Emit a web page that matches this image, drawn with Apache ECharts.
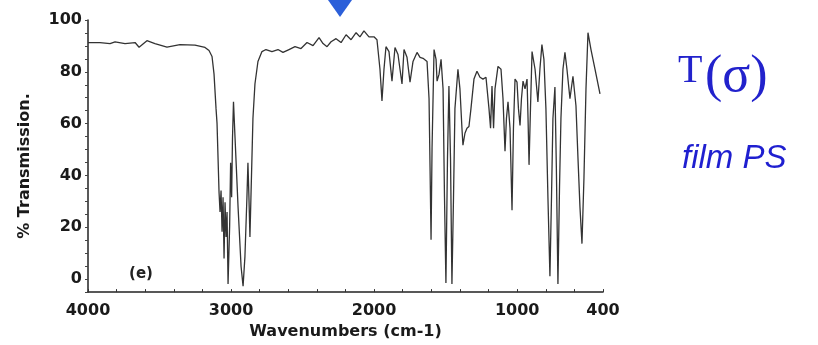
<!DOCTYPE html>
<html>
<head>
<meta charset="utf-8">
<script src="https://cdn.jsdelivr.net/npm/echarts@6/dist/echarts.min.js"></script>
<style>
  html, body { margin: 0; padding: 0; background: #ffffff; }
  #chart { width: 818px; height: 345px; }
</style>
</head>
<body>
<div id="chart"></div>
<script>
// Wavenumbers (cm-1) of the traced spectrum points
const wavenumbers = [
  4000, 3916, 3846, 3811, 3741, 3671, 3643, 3588, 3532, 3448, 3357, 3252, 3182, 3154, 3133, 3119,
  3105, 3098, 3091, 3084, 3077, 3070, 3063, 3056, 3049, 3042, 3035, 3028, 3021, 3010, 3003, 2996,
  2990, 2983, 2972, 2951, 2930, 2916, 2903, 2889, 2882, 2875, 2868, 2861, 2847, 2833, 2812, 2784,
  2756, 2714, 2672, 2637, 2595, 2553, 2511, 2469, 2427, 2385, 2357, 2329, 2301, 2266, 2231, 2196,
  2161, 2126, 2099, 2071, 2036, 2001, 1980, 1959, 1945, 1931, 1917, 1896, 1875, 1854, 1833, 1805,
  1791, 1770, 1749, 1728, 1700, 1679, 1658, 1630, 1616, 1609, 1602, 1595, 1581, 1567, 1560, 1546,
  1532, 1518, 1508, 1498, 1487, 1477, 1466, 1456, 1445, 1435, 1414, 1400, 1386, 1379, 1365, 1351,
  1337, 1323, 1302, 1281, 1260, 1239, 1218, 1197, 1186, 1176, 1165, 1155, 1134, 1113, 1099, 1085,
  1075, 1064, 1050, 1036, 1026, 1015, 1001, 991, 980, 970, 959, 945, 931, 924, 917, 907,
  896, 875, 855, 841, 827, 813, 799, 785, 771, 760, 750, 736, 726, 715, 704, 694,
  680, 666, 652, 631, 610, 589, 575, 561, 547, 533, 519, 505, 484, 456, 421
];
// % Transmission at each wavenumber
const transmission = [
  91.3, 91.3, 90.9, 91.6, 90.9, 91.3, 89.5, 92.0, 90.9, 89.5, 90.5, 90.3, 89.4, 88.2, 85.9, 79.1,
  65.8, 60.1, 46.8, 33.5, 25.9, 34.2, 18.3, 31.6, 8.0, 29.7, 16.3, 25.9, -1.9, 20.2, 44.9, 31.6,
  54.4, 68.4, 54.4, 27.8, 4.9, -2.7, 8.7, 31.6, 44.9, 31.6, 16.3, 31.6, 62.0, 75.3, 84.0, 87.8,
  88.6, 87.8, 88.6, 87.5, 88.6, 89.7, 89.0, 91.3, 90.1, 93.2, 90.9, 89.7, 91.6, 92.8, 91.3, 94.3,
  92.4, 95.1, 93.5, 95.8, 93.5, 93.5, 92.4, 81.0, 68.8, 81.0, 89.7, 87.8, 76.4, 89.4, 86.7, 75.3,
  88.6, 85.6, 76.0, 84.0, 87.5, 85.6, 85.2, 84.0, 69.6, 43.0, 15.2, 50.6, 88.6, 84.8, 76.4, 79.1,
  84.8, 73.4, 31.6, -1.5, 46.8, 74.5, 46.8, -1.9, 31.6, 65.8, 81.0, 73.4, 58.2, 51.7, 56.3, 58.2,
  58.9, 65.8, 77.2, 80.2, 77.9, 77.2, 77.9, 65.8, 58.2, 74.5, 58.2, 73.4, 82.1, 81.0, 69.6, 49.4,
  62.0, 68.4, 58.2, 26.6, 58.2, 77.2, 76.0, 65.8, 59.3, 69.6, 76.4, 73.4, 77.2, 62.0, 44.1, 65.8,
  87.8, 81.0, 68.4, 81.0, 90.5, 84.8, 65.8, 31.6, 1.1, 31.6, 62.0, 74.1, 43.0, -1.9, 35.4, 62.0,
  81.0, 87.5, 81.0, 69.6, 78.3, 66.9, 46.8, 27.8, 13.7, 39.2, 73.4, 95.1, 88.6, 81.0, 71.5
];
// Tick labels
const xTickLabels = [4000, 3000, 2000, 1000, 400];
const xMinorTicks = [4000, 3800, 3600, 3400, 3200, 3000, 2800, 2600, 2400, 2200, 2000, 1800, 1600, 1400, 1200, 1000, 800, 600, 400];
const yTickLabels = [0, 20, 40, 60, 80, 100];

const xName = 'Wavenumbers (cm-1)';
const yName = '% Transmission.';
const panelTag = '(e)';
const sideTitle1a = 'T';
const sideTitle1b = '(σ)';
const sideTitle2 = 'film PS';

const points = wavenumbers.map((w, i) => [w, transmission[i]]);

const chart = echarts.init(document.getElementById('chart'), null, { renderer: 'canvas' });
const labelFont = { fontFamily: 'DejaVu Sans', fontWeight: 'bold', fontSize: 16, color: '#1a1a1a' };

chart.setOption({
  animation: false,
  backgroundColor: '#ffffff',
  grid: { left: 88, right: 215, top: 20, bottom: 49, containLabel: false },
  xAxis: {
    type: 'value',
    inverse: true,
    min: 400,
    max: 4000,
    name: xName,
    nameLocation: 'middle',
    nameGap: 26,
    nameTextStyle: Object.assign({}, labelFont),
    axisLine: { show: true, onZero: false, lineStyle: { color: '#222', width: 1.5 } },
    axisTick: { show: true, inside: true, length: 3, customValues: xMinorTicks, lineStyle: { color: '#333', width: 1 } },
    axisLabel: Object.assign({ customValues: xTickLabels, margin: 11, formatter: v => String(v) }, labelFont),
    splitLine: { show: false }
  },
  yAxis: {
    type: 'value',
    min: -5,
    max: 100,
    interval: 5,
    axisLine: { show: true, onZero: false, lineStyle: { color: '#222', width: 1.5 } },
    axisTick: { show: true, inside: false, length: 3, lineStyle: { color: '#444', width: 1 } },
    axisLabel: Object.assign({ customValues: yTickLabels, margin: 6, formatter: v => String(v) }, labelFont),
    splitLine: { show: false }
  },
  series: [{
    type: 'line',
    data: points,
    showSymbol: false,
    smooth: false,
    lineStyle: { color: '#333333', width: 1.3 },
    clip: true
  }],
  graphic: [
    { type: 'polygon', shape: { points: [[328, 0], [352, 0], [340, 17]] }, style: { fill: '#2b5fd9' } },
    { type: 'text', x: 25, y: 166, rotation: Math.PI / 2, style: { text: yName, fontFamily: 'DejaVu Sans', fontWeight: 'bold', fontSize: 16, fill: '#1a1a1a', align: 'center', verticalAlign: 'middle' } },
    { type: 'text', x: 141, y: 274, style: { text: panelTag, fontFamily: 'DejaVu Sans', fontWeight: 'bold', fontSize: 15, fill: '#222', align: 'center', verticalAlign: 'middle' } },
    { type: 'text', x: 678, y: 71, style: { text: sideTitle1a, fontFamily: 'Liberation Serif', fontSize: 40, fill: '#2222cc', align: 'left', verticalAlign: 'middle' } },
    { type: 'text', x: 705, y: 77, style: { text: sideTitle1b, fontFamily: 'Liberation Serif', fontSize: 52, fill: '#2222cc', align: 'left', verticalAlign: 'middle' } },
    { type: 'text', x: 682, y: 159, style: { text: sideTitle2, fontFamily: 'Liberation Sans', fontStyle: 'italic', fontSize: 33, fill: '#1f1fd0', align: 'left', verticalAlign: 'middle' } }
  ]
});
</script>
</body>
</html>
